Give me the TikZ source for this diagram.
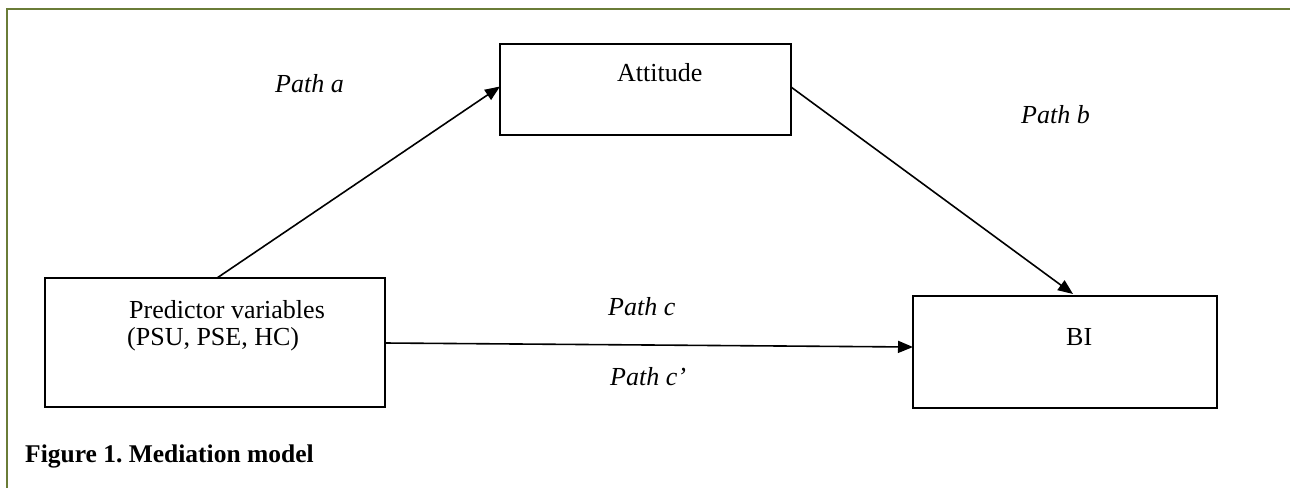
\documentclass[tikz,border=0pt]{standalone}
\usepackage{fontspec}
\setmainfont{Liberation Serif}
\usetikzlibrary{arrows.meta,calc}
\definecolor{bordergreen}{RGB}{106,124,55}
\frenchspacing
\begin{document}
\begin{tikzpicture}[x=1pt,y=-1pt,
  box/.style={draw=black,line width=2.2pt,inner sep=0pt,outer sep=0pt,fill=white},
  arr/.style={line width=1.6pt,-{Triangle[length=15pt,width=12pt]}},
  txt/.style={font=\fontsize{26}{31}\selectfont,inner sep=0pt,anchor=base west},
  itxt/.style={txt,font=\fontsize{26}{31}\selectfont\itshape},
  captxt/.style={txt,font=\fontsize{25.5}{31}\selectfont\bfseries}]
\useasboundingbox (0,0) rectangle (1290,488);
\fill[white] (0,0) rectangle (1290,488);
% page border
\coordinate (bTR) at (1290,9);
\coordinate (bTL) at (7,9);
\coordinate (bBL) at (7,488);
\draw[bordergreen,line width=2.6pt] (bTR) -- (bTL) -- (bBL);
% boxes
\node[box,minimum width=291pt,minimum height=91pt] (att) at (645.5,89.5) {};
\node[box,minimum width=340pt,minimum height=129pt] (pred) at (215,342.5) {};
\node[box,minimum width=304pt,minimum height=112pt] (bi) at (1065,352) {};
% box texts
\node[txt] (atttext) at (617,81) {Attitude};
\node[txt] (predtext1) at (129,318) {Predictor variables};
\node[txt] (predtext2) at (127,345) {(PSU, PSE, HC)};
\node[txt] (bitext) at (1066,345) {BI};
% connectors
\draw[arr] ([xshift=172pt]pred.north west) -- ([yshift=3pt]att.west);
\draw[arr] ([yshift=2.5pt]att.east) -- ([xshift=160pt,yshift=2pt]bi.north west);
\draw[arr] ([yshift=-0.5pt]pred.east) -- ([yshift=5pt]bi.west);
% path labels
\node[itxt] (pa) at (275,92) {Path a};
\node[itxt] (pb) at (1021,123) {Path b};
\node[itxt] (pc) at (608,315) {Path c};
\node[itxt] (pcp) at (610,385) {Path c’};
% caption
\node[captxt] (caption) at (25,462) {Figure 1. Mediation model};
\end{tikzpicture}
\end{document}
